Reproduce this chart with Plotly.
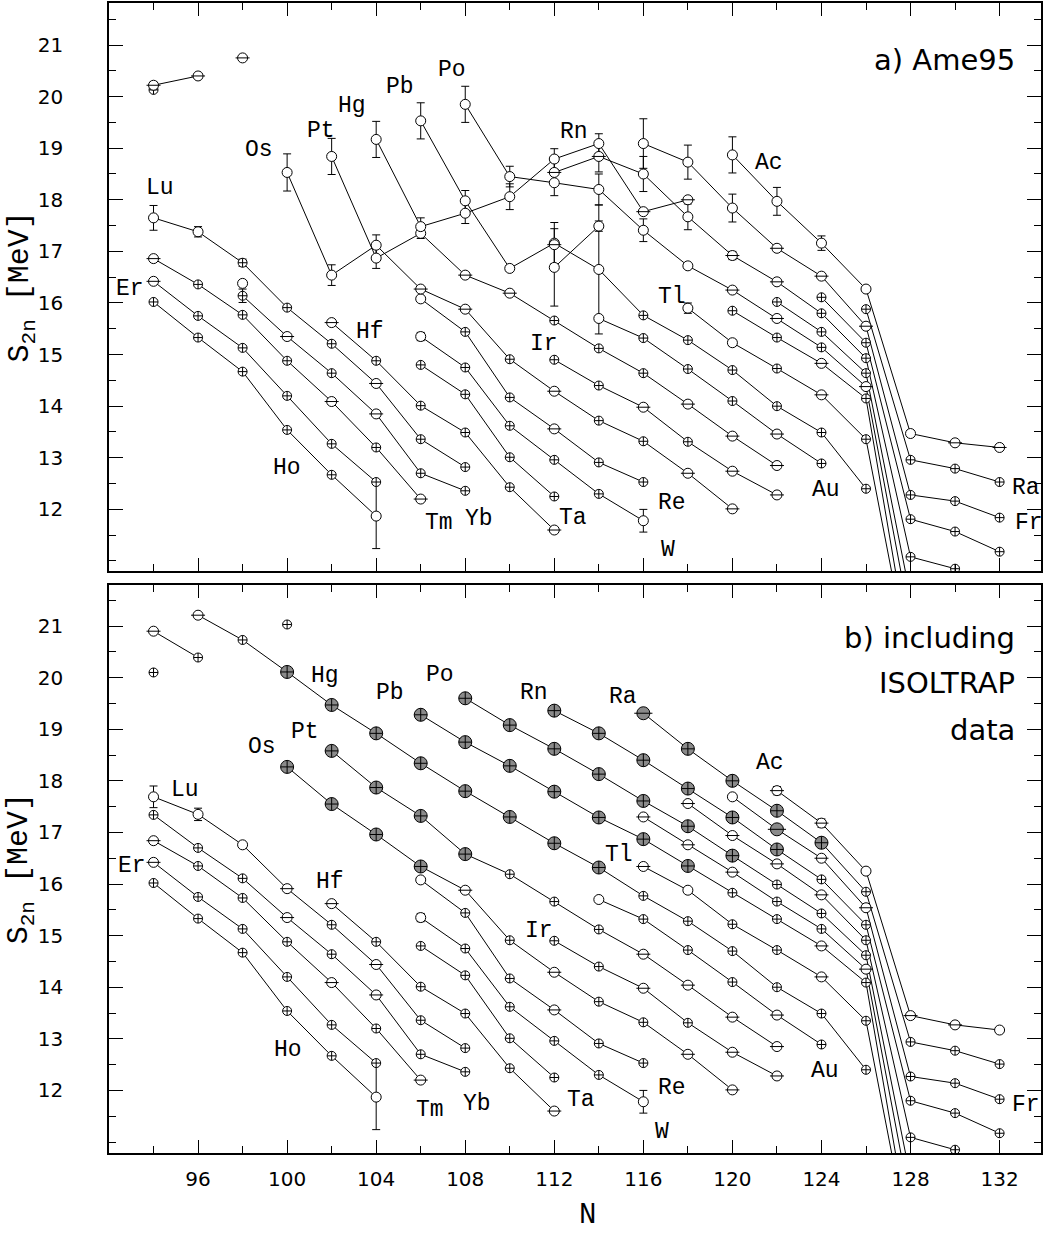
import plotly.graph_objects as go

# ---------------- panel a) Ame95 : chains (N, S2n [MeV], marker codes, errors) ----------------
# marker codes: o open circle, m circle with bar, p circle with cross, g grey ISOLTRAP, G grey plain
a_top = ([94, 96], [20.22, 20.40], "mm", [0.06, 0])
a_i1 = ([94], [20.13], "p", [0])
a_i2 = ([98], [20.75], "m", [0])
a_i3 = ([98], [16.38], "o", [0])
a_i4 = ([112], [17.13], "m", [0])
a_Ho = ([94, 96, 98, 100, 102, 104], [16.02, 15.33, 14.67, 13.54, 12.67, 11.87], "pppppo", [0, 0, 0, 0, 0, 0.63])
a_Er = ([94, 96, 98, 100, 102, 104], [16.42, 15.75, 15.13, 14.20, 13.27, 12.53], "mppppp", [0] * 6)
a_Tm = ([94, 96, 98, 100, 102, 104, 106], [16.86, 16.36, 15.77, 14.88, 14.09, 13.20, 12.20], "mpppmpm", [0] * 7)
a_Yb = ([98, 100, 102, 104, 106, 108], [16.14, 15.35, 14.64, 13.85, 12.70, 12.36], "pmpmpp", [0.13, 0, 0, 0, 0, 0])
a_Lu = ([94, 96, 98, 100, 102, 104, 106, 108], [17.65, 17.38, 16.78, 15.91, 15.21, 14.44, 13.36, 12.82],
        "oopppmpp", [0.24, 0.10, 0.07, 0, 0, 0, 0, 0])
a_Hf = ([102, 104, 106, 108, 110, 112], [15.62, 14.88, 14.01, 13.49, 12.43, 11.60], "mppppm", [0] * 6)
a_Ta = ([106, 108, 110, 112], [14.80, 14.23, 13.01, 12.25], "pppp", [0] * 4)
a_W = ([106, 108, 110, 112, 114, 116], [15.35, 14.75, 13.62, 12.96, 12.30, 11.78], "oppppo", [0.08, 0, 0, 0, 0, 0.22])
a_Re = ([106, 108, 110, 112, 114, 116], [16.08, 15.44, 14.17, 13.56, 12.91, 12.53], "oppmpp", [0] * 6)
a_Os = ([100, 102, 104, 106, 108, 110, 112, 114, 116, 118, 120],
        [18.53, 16.54, 17.12, 16.27, 15.88, 14.91, 14.29, 13.72, 13.32, 12.70, 12.01],
        "ooommpmppmm", [0.36, 0.2, 0.2, 0, 0, 0, 0, 0, 0, 0, 0])
a_Ir = ([112, 114, 116, 118, 120, 122], [14.90, 14.40, 13.98, 13.31, 12.74, 12.28], "ppmpmm", [0] * 6)
a_Pt = ([102, 104, 106, 108, 110, 112, 114, 116, 118, 120, 122],
        [18.84, 16.87, 17.35, 16.54, 16.19, 15.66, 15.12, 14.64, 14.04, 13.42, 12.85],
        "ooommpppmmm", [0.35, 0.2, 0.1, 0, 0, 0, 0, 0, 0, 0, 0])
a_Au = ([114, 116, 118, 120, 122, 124], [15.70, 15.32, 14.72, 14.10, 13.46, 12.89], "opppmp", [0] * 6)
a_Hg = ([104, 106, 108, 110, 112, 114, 116, 118], [19.17, 17.48, 17.74, 18.06, 18.79, 19.09, 17.77, 18.00],
        "oooooomm", [0.35, 0.17, 0.2, 0.25, 0.2, 0.19, 0, 0])
a_Pb = ([106, 108, 110, 112, 114, 116, 118, 120, 122, 124, 126],
        [19.53, 17.98, 16.67, 17.16, 16.65, 15.76, 15.28, 14.70, 14.00, 13.49, 12.40],
        "ooooopppppp", [0.35, 0.2, 0.05, 0.4, 1.25, 0, 0, 0, 0, 0, 0])
a_Po = ([108, 110, 112, 114, 116, 118, 120, 122, 124, 126, 128],
        [19.85, 18.45, 18.33, 18.20, 17.41, 16.72, 16.25, 15.70, 15.14, 14.38, 9.8],
        "oooooommpmp", [0.35, 0.2, 0.25, 0.3, 0.22, 0.05, 0, 0, 0, 0, 0])
a_X = ([112, 114], [16.69, 17.49], "oo", [0.75, 0.1])
a_Tl = ([118, 120, 122, 124, 126, 128], [15.90, 15.23, 14.73, 14.22, 13.36, 8.9], "oopmpp", [0.1, 0.06, 0, 0, 0, 0])
a_Pb2 = ([120, 122, 124, 126, 128], [15.85, 15.33, 14.83, 14.15, 9.1], "ppmpp", [0] * 5)
a_Po2 = ([122, 124, 126, 128], [16.02, 15.44, 14.64, 10.3], "pppp", [0] * 4)
a_Rn = ([112, 114, 116, 118, 120, 122, 124, 126, 128, 130],
        [18.53, 18.84, 18.50, 17.67, 16.92, 16.41, 15.80, 14.93, 11.08, 10.85],
        "mmoommpppp", [0.2, 0.3, 0.34, 0.25, 0.08, 0, 0, 0, 0, 0])
a_Rn2 = ([124, 126, 128, 130, 132], [16.11, 15.23, 11.81, 11.57, 11.18], "ppppp", [0] * 5)
a_Fr = ([116, 118, 120, 122, 124, 126, 128, 130, 132],
        [19.09, 18.73, 17.84, 17.06, 16.52, 15.55, 12.28, 12.16, 11.84],
        "ooommmppp", [0.48, 0.33, 0.27, 0.05, 0, 0, 0, 0, 0])
a_Ra = ([126, 128, 130, 132], [15.88, 12.96, 12.79, 12.53], "pppp", [0] * 4)
a_Ac = ([120, 122, 124, 126, 128, 130, 132], [18.87, 17.97, 17.16, 16.27, 13.47, 13.29, 13.20],
        "ooooomm", [0.35, 0.27, 0.14, 0.05, 0.05, 0, 0.05])

# ---------------- panel b) including ISOLTRAP data ----------------
b_top = ([94, 96], [20.90, 20.39], "mp", [0, 0])
b_i1 = ([94], [20.10], "p", [0])
b_i2 = ([100], [21.03], "p", [0])
b_Tm = ([94, 96, 98, 100, 102, 104, 106], [16.84, 16.35, 15.73, 14.88, 14.09, 13.20, 12.20], "mpppmpm", [0] * 7)
b_Yb = ([94, 96, 98, 100, 102, 104, 106, 108], [17.34, 16.70, 16.11, 15.35, 14.64, 13.85, 12.70, 12.36],
        "pppmpmpp", [0] * 8)
b_Lu = ([94, 96, 98, 100, 102, 104, 106, 108], [17.69, 17.35, 16.76, 15.91, 15.21, 14.44, 13.36, 12.82],
        "ooompmpp", [0.21, 0.12, 0, 0, 0, 0, 0, 0])
b_Os = ([100, 102, 104, 106, 108, 110, 112, 114, 116, 118, 120],
        [18.27, 17.55, 16.96, 16.34, 15.88, 14.91, 14.29, 13.72, 13.32, 12.70, 12.01], "ggggmpmppmm", [0] * 11)
b_Pt = ([102, 104, 106, 108, 110, 112, 114, 116, 118, 120, 122],
        [18.58, 17.87, 17.32, 16.58, 16.19, 15.66, 15.12, 14.64, 14.04, 13.42, 12.85], "ggggpppmmmm", [0] * 11)
b_Hg = ([96, 98, 100, 102, 104, 106, 108, 110, 112, 114, 116, 118, 120, 122, 124, 126],
        [21.21, 20.73, 20.11, 19.47, 18.92, 18.34, 17.80, 17.30, 16.79, 16.32, 15.77, 15.28, 14.70, 14.00,
         13.49, 12.40], "mpggggggggpppppp", [0] * 16)
b_Tl = ([116, 118, 120, 122, 124, 126, 128], [16.34, 15.88, 15.22, 14.72, 14.20, 13.35, 8.9], "moppmpp", [0] * 7)
b_Pb = ([106, 108, 110, 112, 114, 116, 118, 120, 122, 124, 126, 128],
        [19.28, 18.75, 18.29, 17.79, 17.29, 16.87, 16.35, 15.83, 15.32, 14.80, 14.09, 9.1],
        "gggggggppmpp", [0] * 12)
b_Bi = ([116, 118, 120, 122, 124, 126, 128], [17.30, 16.76, 16.23, 15.66, 15.13, 14.35, 9.8], "mmmppmp", [0] * 7)
b_Po = ([108, 110, 112, 114, 116, 118, 120, 122, 124, 126, 128],
        [19.60, 19.08, 18.62, 18.13, 17.61, 17.12, 16.55, 15.99, 15.43, 14.62, 10.3], "gggggggpppp", [0] * 11)
b_At = ([118, 120, 122, 124, 126, 128, 130], [17.56, 16.94, 16.39, 15.79, 14.91, 11.09, 10.85], "mmmmppp", [0] * 7)
b_Rn = ([112, 114, 116, 118, 120, 122, 124, 126, 128, 130, 132],
        [19.36, 18.92, 18.40, 17.85, 17.29, 16.67, 16.09, 15.21, 11.80, 11.56, 11.17], "ggggggppppp", [0] * 11)
b_Fr = ([120, 122, 124, 126, 128, 130, 132], [17.69, 17.06, 16.50, 15.54, 12.27, 12.14, 11.83], "oGmmppp", [0] * 7)
b_Ra = ([116, 118, 120, 122, 124, 126, 128, 130, 132],
        [19.31, 18.62, 18.00, 17.42, 16.80, 15.85, 12.94, 12.77, 12.51], "Gggggpppp", [0] * 9)
b_Ac = ([122, 124, 126, 128, 130, 132], [17.81, 17.18, 16.25, 13.45, 13.27, 13.17], "mmommo",
        [0.08, 0.08, 0, 0, 0, 0.05])

A_CHAINS = [a_top, a_i1, a_i2, a_i3, a_i4, a_Ho, a_Er, a_Tm, a_Yb, a_Lu, a_Hf, a_Ta, a_W, a_Re, a_Os, a_Ir,
            a_Pt, a_Au, a_Hg, a_Pb, a_Po, a_X, a_Tl, a_Pb2, a_Po2, a_Rn, a_Rn2, a_Fr, a_Ra, a_Ac]
B_CHAINS = [b_top, b_i1, b_i2, a_Ho, a_Er, b_Tm, b_Yb, b_Lu, a_Hf, a_Ta, a_W, a_Re, b_Os, a_Ir, b_Pt, a_Au,
            b_Hg, b_Tl, b_Pb, b_Bi, b_Po, b_At, b_Rn, b_Fr, b_Ra, b_Ac]

# element labels
A_LAB_T = ["Lu", "Er", "Os", "Pt", "Hg", "Pb", "Po", "Rn", "Ac", "Hf", "Ir", "Tl", "Ho", "Tm", "Yb", "Ta",
           "Re", "W", "Au", "Ra", "Fr"]
A_LAB_X = [94.27, 92.95, 98.75, 101.5, 102.9, 105.06, 107.42, 112.9, 121.65, 103.7, 111.55, 117.3, 99.98,
           106.8, 108.6, 112.86, 117.3, 117.1, 124.2, 133.2, 133.3]
A_LAB_Y = [18.22, 16.28, 18.97, 19.33, 19.82, 20.19, 20.52, 19.32, 18.71, 15.44, 15.21, 16.12, 12.80, 11.73,
           11.81, 11.84, 12.13, 11.21, 12.38, 12.41, 11.74]
B_LAB_T = ["Hg", "Pb", "Po", "Rn", "Ra", "Os", "Pt", "Lu", "Ac", "Tl", "Er", "Hf", "Ir", "Ho", "Tm", "Yb",
           "Ta", "Re", "W", "Au", "Fr"]
B_LAB_X = [101.7, 104.64, 106.85, 111.1, 115.07, 98.86, 100.8, 95.42, 121.68, 114.9, 93.03, 101.92, 111.3,
           100.05, 106.4, 108.54, 113.2, 117.3, 116.84, 124.16, 133.2]
B_LAB_Y = [20.03, 19.71, 20.05, 19.71, 19.63, 18.65, 18.94, 17.82, 18.35, 16.56, 16.34, 16.04, 15.08, 12.78,
           11.63, 11.74, 11.81, 12.04, 11.2, 12.38, 11.72]

Y_TICKS = [12, 13, 14, 15, 16, 17, 18, 19, 20, 21]
Y_MINOR = [11, 11.5, 12.5, 13.5, 14.5, 15.5, 16.5, 17.5, 18.5, 19.5, 20.5, 21.5]
X_TICKS = [96, 100, 104, 108, 112, 116, 120, 124, 128, 132]
X_MINOR = [94, 98, 102, 106, 110, 114, 118, 122, 126, 130]

MONO = "Liberation Mono, Courier New, monospace"
SANS = "DejaVu Sans, Arial, sans-serif"
GREY = "#8a8a8a"

fig = go.Figure()


def add_panel(chains, xa, ya):
    lx, ly = [], []
    ex, ey, ee = [], [], []
    groups = {c: ([], []) for c in "opmgG"}
    for n, s, m, e in chains:
        if len(n) > 1:
            lx += list(n) + [None]
            ly += list(s) + [None]
        for xi, yi, ci, ei in zip(n, s, m, e):
            groups[ci][0].append(xi)
            groups[ci][1].append(yi)
            if ei > 0:
                ex.append(xi); ey.append(yi); ee.append(ei)
    fig.add_trace(go.Scatter(x=lx, y=ly, mode="lines", line=dict(color="black", width=1),
                             xaxis=xa, yaxis=ya, hoverinfo="skip"))
    fig.add_trace(go.Scatter(x=ex, y=ey, mode="markers", marker=dict(size=1, color="rgba(0,0,0,0)"),
                             error_y=dict(type="data", array=ee, visible=True, color="black",
                                          thickness=1, width=4),
                             xaxis=xa, yaxis=ya, hoverinfo="skip"))
    wl = dict(color="black", width=1)
    specs = [("p", "circle-cross", "white", 9), ("o", "circle", "white", 10), ("m", "circle", "white", 10),
             ("g", "circle-cross", GREY, 13), ("G", "circle", GREY, 13)]
    for code, sym, col, size in specs:
        gx, gy = groups[code]
        if not gx:
            continue
        fig.add_trace(go.Scatter(x=gx, y=gy, mode="markers",
                                 marker=dict(symbol=sym, color=col, size=size, line=wl),
                                 xaxis=xa, yaxis=ya, hoverinfo="skip"))
        if code in "mG":
            fig.add_trace(go.Scatter(x=gx, y=gy, mode="markers",
                                     marker=dict(symbol="line-ew", color="black", size=size, line=wl),
                                     xaxis=xa, yaxis=ya, hoverinfo="skip"))


add_panel(A_CHAINS, "x", "y")
add_panel(B_CHAINS, "x2", "y2")

LAB_FONT = dict(family=MONO, size=23, color="black")
ann = []
for t, x, y in zip(A_LAB_T, A_LAB_X, A_LAB_Y):
    ann.append(dict(text=t, x=x, y=y, xref="x", yref="y", showarrow=False, font=LAB_FONT))
for t, x, y in zip(B_LAB_T, B_LAB_X, B_LAB_Y):
    ann.append(dict(text=t, x=x, y=y, xref="x2", yref="y2", showarrow=False, font=LAB_FONT))
big = dict(family=SANS, size=29, color="black")
ann.append(dict(text="a) Ame95", x=132.77, y=20.71, xref="x", yref="y", xanchor="right", showarrow=False, font=big))
ann.append(dict(text="b) including", x=132.77, y=20.77, xref="x2", yref="y2", xanchor="right", showarrow=False, font=big))
ann.append(dict(text="ISOLTRAP", x=132.77, y=19.90, xref="x2", yref="y2", xanchor="right", showarrow=False, font=big))
ann.append(dict(text="data", x=132.77, y=18.98, xref="x2", yref="y2", xanchor="right", showarrow=False, font=big))
ttl = dict(family=MONO, size=30, color="black")
ann.append(dict(text="S<sub>2n</sub> [MeV]", x=-0.094, y=0.753, xref="paper", yref="paper", textangle=-90,
                xanchor="center", yanchor="middle", showarrow=False, font=ttl))
ann.append(dict(text="S<sub>2n</sub> [MeV]", x=-0.094, y=0.247, xref="paper", yref="paper", textangle=-90,
                xanchor="center", yanchor="middle", showarrow=False, font=ttl))
ann.append(dict(text="N", x=0.513, y=-0.054, xref="paper", yref="paper", xanchor="center", yanchor="middle",
                showarrow=False, font=dict(family=MONO, size=29, color="black")))

xcommon = dict(range=[92, 133.86], tickvals=X_TICKS, ticks="inside", ticklen=13, tickwidth=1, tickcolor="black",
               mirror="ticks", showline=True, linecolor="black", linewidth=1.5, showgrid=False, zeroline=False,
               minor=dict(tickvals=X_MINOR, ticks="inside", ticklen=7, tickcolor="black", showgrid=False))
ycommon = dict(tickvals=Y_TICKS, ticks="inside", ticklen=14, tickwidth=1, tickcolor="black",
               mirror="ticks", showline=True, linecolor="black", linewidth=1.5, showgrid=False, zeroline=False,
               ticklabelstandoff=40, tickfont=dict(family=SANS, size=20, color="black"),
               minor=dict(tickvals=Y_MINOR, ticks="inside", ticklen=7, tickcolor="black", showgrid=False))

fig.update_layout(
    width=1043, height=1236, margin=dict(l=109, r=0, t=3, b=83),
    paper_bgcolor="white", plot_bgcolor="white", showlegend=False,
    xaxis=dict(xcommon, anchor="y", showticklabels=False),
    xaxis2=dict(xcommon, anchor="y2", showticklabels=True, tickfont=dict(family=SANS, size=20, color="black"),
                ticklabelstandoff=7),
    yaxis=dict(ycommon, domain=[0.5061, 1.0], range=[10.806, 21.814], anchor="x"),
    yaxis2=dict(ycommon, domain=[0.0, 0.4939], range=[10.787, 21.795], anchor="x2"),
    annotations=ann,
)

fig.write_html("out.html")
